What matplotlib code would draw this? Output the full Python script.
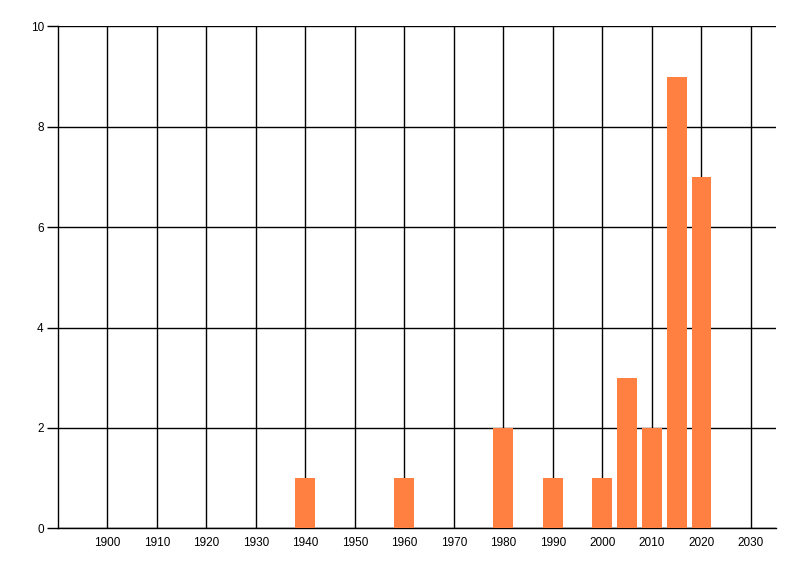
import matplotlib
matplotlib.use("Agg")
import matplotlib.pyplot as plt

years = [1940, 1960, 1980, 1990, 2000, 2005, 2010, 2015, 2020]
counts = [1, 1, 2, 1, 1, 3, 2, 9, 7]
x_ticks = [1900, 1910, 1920, 1930, 1940, 1950, 1960, 1970, 1980, 1990, 2000, 2010, 2020, 2030]
y_ticks = [0, 2, 4, 6, 8, 10]

plt.rcParams['font.family'] = ['Liberation Sans', 'DejaVu Sans']

fig = plt.figure(figsize=(8, 5.76), dpi=100)
ax = fig.add_axes([57.7/800, 1 - 528.3/576, (775.7-57.7)/800, (528.3-26.3)/576])

ax.bar(years, counts, width=4, color='#FF8040', zorder=3)

ax.set_xlim(1890, 2035)
ax.set_ylim(0, 10)
ax.set_xticks(x_ticks)
ax.set_xticklabels([str(t) for t in x_ticks])
ax.set_yticks(y_ticks)
ax.set_yticklabels([str(t) for t in y_ticks])

ax.grid(True, color='black', linewidth=1.0, zorder=1)
ax.set_axisbelow(True)
for s in ['top', 'right']:
    ax.spines[s].set_visible(False)
for s in ['left', 'bottom']:
    ax.spines[s].set_linewidth(1.0)
    ax.spines[s].set_color('black')

ax.tick_params(axis='x', length=0, pad=6, labelsize=8.5)
ax.tick_params(axis='y', length=8, width=1.0, pad=2, labelsize=8.5)

fig.savefig('out.png', dpi=100)
